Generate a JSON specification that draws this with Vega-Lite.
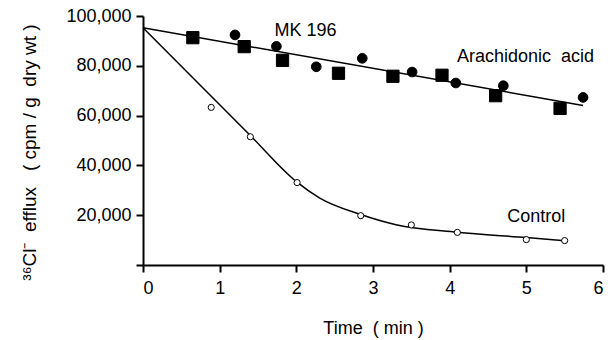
{
  "$schema": "https://vega.github.io/schema/vega-lite/v6.json",
  "autosize": "none",
  "width": 460,
  "height": 249,
  "padding": {"left": 143, "top": 16, "right": 10, "bottom": 75},
  "background": "white",
  "config": {
    "view": {"stroke": null},
    "font": "Liberation Sans",
    "axis": {
      "grid": false,
      "domainColor": "black",
      "domainWidth": 2,
      "tickColor": "black",
      "tickWidth": 2,
      "tickSize": 7,
      "labelFont": "Liberation Sans",
      "labelFontSize": 18,
      "labelColor": "black",
      "titleFont": "Liberation Sans",
      "titleFontSize": 18,
      "titleFontWeight": "normal",
      "titleColor": "black"
    }
  },
  "datasets": {
    "points": [
      {"series": "Squares", "time": 0.65, "efflux": 91300},
      {"series": "Squares", "time": 1.32, "efflux": 87700},
      {"series": "Squares", "time": 1.82, "efflux": 82200},
      {"series": "Squares", "time": 2.55, "efflux": 77000},
      {"series": "Squares", "time": 3.26, "efflux": 75800},
      {"series": "Squares", "time": 3.90, "efflux": 76200},
      {"series": "Squares", "time": 4.60, "efflux": 68000},
      {"series": "Squares", "time": 5.44, "efflux": 62900},
      {"series": "Dots", "time": 1.20, "efflux": 92400},
      {"series": "Dots", "time": 1.74, "efflux": 87800},
      {"series": "Dots", "time": 2.26, "efflux": 79600},
      {"series": "Dots", "time": 2.86, "efflux": 83000},
      {"series": "Dots", "time": 3.51, "efflux": 77500},
      {"series": "Dots", "time": 4.08, "efflux": 73100},
      {"series": "Dots", "time": 4.70, "efflux": 72000},
      {"series": "Dots", "time": 5.74, "efflux": 67300},
      {"series": "Control", "time": 0.89, "efflux": 63300},
      {"series": "Control", "time": 1.40, "efflux": 51500},
      {"series": "Control", "time": 2.01, "efflux": 33100},
      {"series": "Control", "time": 2.84, "efflux": 19800},
      {"series": "Control", "time": 3.50, "efflux": 16100},
      {"series": "Control", "time": 4.10, "efflux": 13100},
      {"series": "Control", "time": 5.00, "efflux": 10200},
      {"series": "Control", "time": 5.50, "efflux": 9800}
    ],
    "fits": [
      {"curve": "Treated", "time": 0, "efflux": 95300},
      {"curve": "Treated", "time": 5.74, "efflux": 64100},
      {"curve": "Control", "time": 0, "efflux": 95300},
      {"curve": "Control", "time": 1.4, "efflux": 52000},
      {"curve": "Control", "time": 2.0, "efflux": 33500},
      {"curve": "Control", "time": 2.3, "efflux": 27000},
      {"curve": "Control", "time": 2.84, "efflux": 20300},
      {"curve": "Control", "time": 3.3, "efflux": 16200},
      {"curve": "Control", "time": 4.1, "efflux": 13200},
      {"curve": "Control", "time": 5.0, "efflux": 11000},
      {"curve": "Control", "time": 5.5, "efflux": 9700}
    ],
    "labels": [
      {"label": "MK 196", "time": 2.12, "efflux": 94000},
      {"label": "Arachidonic\u00a0\u00a0acid", "time": 4.99, "efflux": 83650},
      {"label": "Control", "time": 5.13, "efflux": 19400}
    ]
  },
  "encoding": {
    "x": {
      "field": "time", "type": "quantitative",
      "scale": {"domain": [0, 6], "nice": false, "zero": false},
      "axis": {
        "values": [0, 1, 2, 3, 4, 5, 6],
        "format": "d",
        "labelPadding": 7,
        "title": "Time\u00a0\u00a0(\u00a0min\u00a0)",
        "titleFontWeight": "normal",
        "titleX": 230,
        "titleY": 68,
        "titleAlign": "center",
        "titleBaseline": "alphabetic"
      }
    },
    "y": {
      "field": "efflux", "type": "quantitative",
      "scale": {"domain": [0, 100000], "nice": false},
      "axis": {
        "values": [0, 20000, 40000, 60000, 80000, 100000],
        "labelExpr": "datum.value == 0 ? '' : format(datum.value, ',')",
        "labelPadding": 5,
        "title": "\u00b3\u2076Cl\u207b\u00a0\u00a0efflux\u00a0\u00a0\u00a0(\u00a0cpm\u00a0/\u00a0g\u00a0\u00a0dry\u00a0wt\u00a0)",
        "titleFontWeight": "normal",
        "titleFontSize": 19,
        "titleAngle": 270,
        "titleX": -108,
        "titleY": 136,
        "titleAlign": "center",
        "titleBaseline": "alphabetic"
      }
    }
  },
  "layer": [
    {
      "data": {"name": "fits"},
      "mark": {"type": "line", "color": "black", "strokeWidth": 1.5, "interpolate": "monotone"},
      "encoding": {"detail": {"field": "curve"}}
    },
    {
      "data": {"name": "points"},
      "mark": {"type": "point", "filled": false, "stroke": "black", "strokeWidth": 1, "opacity": 1},
      "encoding": {
        "shape": {"field": "series", "type": "nominal", "scale": {"domain": ["Squares", "Dots", "Control"], "range": ["square", "circle", "circle"]}, "legend": null},
        "fill": {"field": "series", "type": "nominal", "scale": {"domain": ["Squares", "Dots", "Control"], "range": ["black", "black", "white"]}, "legend": null},
        "size": {"field": "series", "type": "nominal", "scale": {"domain": ["Squares", "Dots", "Control"], "range": [150, 38, 52]}, "legend": null}
      }
    },
    {
      "data": {"name": "labels"},
      "mark": {"type": "text", "font": "Liberation Sans", "fontSize": 18, "color": "black", "align": "center", "baseline": "middle"},
      "encoding": {"text": {"field": "label"}}
    }
  ]
}
